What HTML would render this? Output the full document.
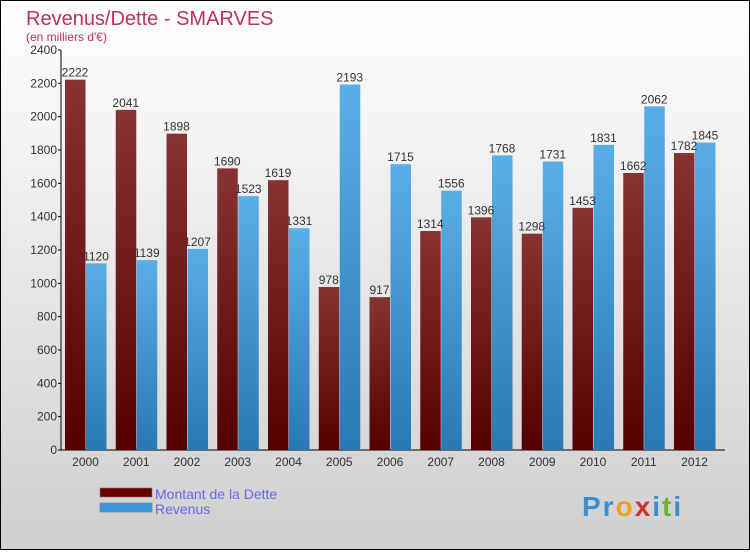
<!DOCTYPE html>
<html><head><meta charset="utf-8"><style>
html,body{margin:0;padding:0}
body{width:750px;height:550px;overflow:hidden;font-family:"Liberation Sans",sans-serif}
</style></head><body>
<svg id="chart" width="750" height="550" xmlns="http://www.w3.org/2000/svg">
<defs>
<linearGradient id="bg" x1="0" y1="0" x2="0" y2="1"><stop offset="0" stop-color="#ffffff"/><stop offset="1" stop-color="#cfcfcf"/></linearGradient>
<linearGradient id="gd" x1="0" y1="0" x2="0" y2="1"><stop offset="0" stop-color="#883333"/><stop offset="1" stop-color="#550000"/></linearGradient>
<linearGradient id="gr" x1="0" y1="0" x2="0" y2="1"><stop offset="0" stop-color="#5aaee6"/><stop offset="1" stop-color="#2a78b4"/></linearGradient>
</defs>
<rect x="0.5" y="0.5" width="749" height="549" fill="url(#bg)" stroke="#000"/>
<text x="26" y="25" font-size="20" fill="#c0305a">Revenus/Dette - SMARVES</text>
<text x="26" y="41" font-size="12" fill="#c0305a">(en milliers d'€)</text>
<g id="axes"></g>
<g id="bars"></g>
<rect x="100" y="488" width="52" height="9" fill="#6a0000" stroke="#777" stroke-width="0.6"/>
<rect x="100" y="503" width="52" height="9" fill="#3a98dc" stroke="#777" stroke-width="0.6"/>
<text x="155" y="499" font-size="14" fill="#6666ee">Montant de la Dette</text>
<text x="155" y="514" font-size="14" fill="#6666ee">Revenus</text>
<text x="582" y="516" font-size="28" font-weight="bold" letter-spacing="2"><tspan fill="#3a8fd0">Pr</tspan><tspan fill="#f0a020">o</tspan><tspan fill="#d03030">x</tspan><tspan fill="#3a8fd0">i</tspan><tspan fill="#70b030">t</tspan><tspan fill="#3a8fd0">i</tspan></text>
</svg>
<script>
const years=["2000","2001","2002","2003","2004","2005","2006","2007","2008","2009","2010","2011","2012"];
const dette=[2222,2041,1898,1690,1619,978,917,1314,1396,1298,1453,1662,1782];
const revenus=[1120,1139,1207,1523,1331,2193,1715,1556,1768,1731,1831,2062,1845];
const yTicks=[0,200,400,600,800,1000,1200,1400,1600,1800,2000,2200,2400];
const NS="http://www.w3.org/2000/svg";
const y=v=>450-v*400/2400;
const gx=i=>65+i*50.75;
function mk(t,a,p){const e=document.createElementNS(NS,t);for(const k in a)e.setAttribute(k,a[k]);p.appendChild(e);return e;}
const ax=document.getElementById('axes'),bg=document.getElementById('bars');
const yl=mk('line',{x1:61,y1:50,x2:61,y2:450,stroke:'#000'},ax);


const xl=mk('line',{x1:61,y1:450,x2:725,y2:450,stroke:'#000'},ax);


yTicks.forEach(v=>{
  mk('line',{x1:58,x2:61,y1:y(v),y2:y(v),stroke:'#000'},ax);
  const t=mk('text',{x:57,y:y(v)+4,'font-size':12,'text-anchor':'end',fill:'#333'},ax);
  t.textContent=v;
  
  
});
years.forEach((yr,i)=>{
  const x=gx(i);
  const t=mk('text',{x:x+20.5,y:466,'font-size':12,'text-anchor':'middle',fill:'#333'},ax);
  t.textContent=yr;
  
  
  const b1=mk('rect',{x:x,y:y(dette[i]),width:20.5,height:450-y(dette[i]),fill:'url(#gd)'},bg);
  
  
  const b2=mk('rect',{x:x+21,y:y(revenus[i]),width:20.5,height:450-y(revenus[i]),fill:'url(#gr)'},bg);
  
  
});
years.forEach((yr,i)=>{
  const x=gx(i);
  const l1=mk('text',{x:x+10,y:y(dette[i])-3,'font-size':12,'text-anchor':'middle',fill:'#333'},bg);
  l1.textContent=dette[i];
  
  
  const l2=mk('text',{x:x+31,y:y(revenus[i])-3,'font-size':12,'text-anchor':'middle',fill:'#333'},bg);
  l2.textContent=revenus[i];
  
  
});
</script>
</body></html>
